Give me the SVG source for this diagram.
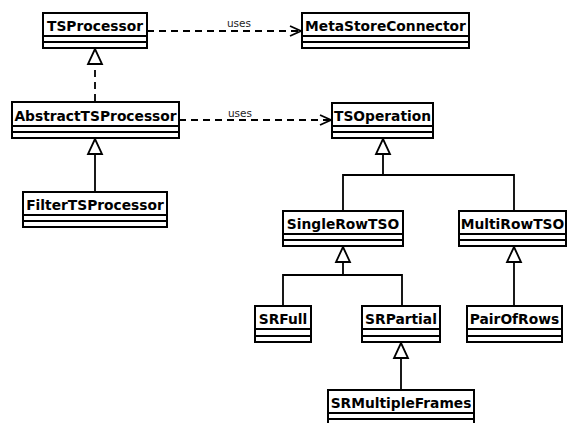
<svg xmlns="http://www.w3.org/2000/svg" width="568" height="423" viewBox="0 0 568 423">
<style>
.box{fill:#fff;stroke:#000;stroke-width:2}
.sep{stroke:#000;stroke-width:2}
.name{font-family:"DejaVu Sans",sans-serif;font-weight:bold;font-size:13.8px;fill:#000;text-anchor:middle}
.lbl{font-family:"DejaVu Sans",sans-serif;font-size:10.5px;fill:#222;text-anchor:middle}
.dash{fill:none;stroke:#000;stroke-width:1.8;stroke-dasharray:7,5}
.solid{fill:none;stroke:#000;stroke-width:1.8}
.tri{fill:#fff;stroke:#000;stroke-width:1.8;stroke-linejoin:miter}
.open{fill:none;stroke:#000;stroke-width:1.8}
</style>
<rect width="568" height="423" fill="#fff"/>
<g id="connectors">
  <path class="dash" d="M147,31 H300"/>
  <path class="open" d="M290,26 L301,31 L290,36"/>
  <text class="lbl" x="239" y="27">uses</text>
  <path class="dash" d="M179,120 H330"/>
  <path class="open" d="M320,115 L331,120 L320,125"/>
  <text class="lbl" x="240" y="117">uses</text>
  <path class="dash" d="M95,101 V64"/>
  <path class="tri" d="M95,49 L102,64 L88,64 Z"/>
  <path class="solid" d="M95,192 V154"/>
  <path class="tri" d="M95,139 L102,154 L88,154 Z"/>
  <path class="solid" d="M383,154 V175 M343,211 V175 H514 V211"/>
  <path class="tri" d="M383,139 L390,154 L376,154 Z"/>
  <path class="solid" d="M343,262 V275 M283,306 V275 H402 V306"/>
  <path class="tri" d="M343,247 L350,262 L336,262 Z"/>
  <path class="solid" d="M514,262 V306"/>
  <path class="tri" d="M514,247 L521,262 L507,262 Z"/>
  <path class="solid" d="M401,358 V390"/>
  <path class="tri" d="M401,343 L408,358 L394,358 Z"/>
</g>
<g id="TSProcessor">
  <rect class="box" x="43" y="13" width="104" height="35"/>
  <path class="sep" d="M43,36 H147 M43,42 H147"/>
  <text class="name" x="95" y="30.5">TSProcessor</text>
</g>
<g id="MetaStoreConnector">
  <rect class="box" x="302" y="13" width="167" height="35"/>
  <path class="sep" d="M302,36 H469 M302,42 H469"/>
  <text class="name" x="385.5" y="30.5">MetaStoreConnector</text>
</g>
<g id="AbstractTSProcessor">
  <rect class="box" x="12" y="102" width="167" height="36"/>
  <path class="sep" d="M12,126 H179 M12,132 H179"/>
  <text class="name" x="95.5" y="120.5">AbstractTSProcessor</text>
</g>
<g id="TSOperation">
  <rect class="box" x="332" y="103" width="101" height="35"/>
  <path class="sep" d="M332,126 H433 M332,132 H433"/>
  <text class="name" x="382.5" y="120.5">TSOperation</text>
</g>
<g id="FilterTSProcessor">
  <rect class="box" x="23" y="192" width="144" height="35"/>
  <path class="sep" d="M23,215 H167 M23,221 H167"/>
  <text class="name" x="95" y="209.5">FilterTSProcessor</text>
</g>
<g id="SingleRowTSO">
  <rect class="box" x="283" y="211" width="120" height="35"/>
  <path class="sep" d="M283,234 H403 M283,240 H403"/>
  <text class="name" x="343" y="228.5">SingleRowTSO</text>
</g>
<g id="MultiRowTSO">
  <rect class="box" x="459" y="211" width="107" height="35"/>
  <path class="sep" d="M459,234 H566 M459,240 H566"/>
  <text class="name" x="512.5" y="228.5">MultiRowTSO</text>
</g>
<g id="SRFull">
  <rect class="box" x="255" y="306" width="56" height="36"/>
  <path class="sep" d="M255,329 H311 M255,336 H311"/>
  <text class="name" x="283" y="323.5">SRFull</text>
</g>
<g id="SRPartial">
  <rect class="box" x="362" y="306" width="78" height="36"/>
  <path class="sep" d="M362,329 H440 M362,336 H440"/>
  <text class="name" x="401" y="323.5">SRPartial</text>
</g>
<g id="PairOfRows">
  <rect class="box" x="467" y="306" width="95" height="36"/>
  <path class="sep" d="M467,329 H562 M467,336 H562"/>
  <text class="name" x="514.5" y="323.5">PairOfRows</text>
</g>
<g id="SRMultipleFrames">
  <rect class="box" x="328" y="390" width="146" height="36"/>
  <path class="sep" d="M328,413 H474 M328,419 H474"/>
  <text class="name" x="401" y="407.5">SRMultipleFrames</text>
</g>
</svg>
